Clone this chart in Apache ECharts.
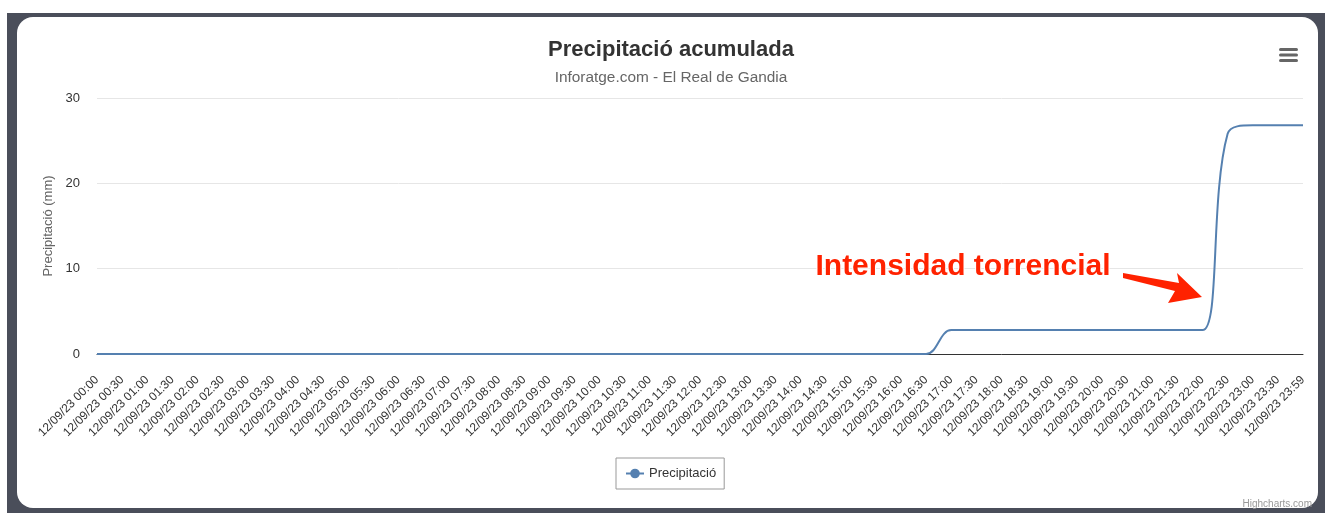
<!DOCTYPE html>
<html>
<head>
<meta charset="utf-8">
<script src="https://cdn.jsdelivr.net/npm/echarts@6/dist/echarts.min.js"></script>
<style>
  html, body { margin: 0; padding: 0; background: #ffffff; width: 1325px; height: 513px; overflow: hidden; }
  #frame { position: absolute; left: 7px; top: 13px; width: 1318px; height: 500px; background: #4a4e5a; }
  #card { position: absolute; left: 17px; top: 17px; width: 1301px; height: 491px; background: #ffffff; border-radius: 16px; }
  #chart { position: absolute; left: 0; top: 0; width: 1325px; height: 513px; }
</style>
</head>
<body>
<div id="frame"></div>
<div id="card"></div>
<div id="chart"></div>
<script>
const categories = [
  '12/09/23 00:00','12/09/23 00:30','12/09/23 01:00','12/09/23 01:30','12/09/23 02:00','12/09/23 02:30',
  '12/09/23 03:00','12/09/23 03:30','12/09/23 04:00','12/09/23 04:30','12/09/23 05:00','12/09/23 05:30',
  '12/09/23 06:00','12/09/23 06:30','12/09/23 07:00','12/09/23 07:30','12/09/23 08:00','12/09/23 08:30',
  '12/09/23 09:00','12/09/23 09:30','12/09/23 10:00','12/09/23 10:30','12/09/23 11:00','12/09/23 11:30',
  '12/09/23 12:00','12/09/23 12:30','12/09/23 13:00','12/09/23 13:30','12/09/23 14:00','12/09/23 14:30',
  '12/09/23 15:00','12/09/23 15:30','12/09/23 16:00','12/09/23 16:30','12/09/23 17:00','12/09/23 17:30',
  '12/09/23 18:00','12/09/23 18:30','12/09/23 19:00','12/09/23 19:30','12/09/23 20:00','12/09/23 20:30',
  '12/09/23 21:00','12/09/23 21:30','12/09/23 22:00','12/09/23 22:30','12/09/23 23:00','12/09/23 23:30',
  '12/09/23 23:59'
];
const precipitacio = [
  0, 0, 0, 0, 0, 0,
  0, 0, 0, 0, 0, 0,
  0, 0, 0, 0, 0, 0,
  0, 0, 0, 0, 0, 0,
  0, 0, 0, 0, 0, 0,
  0, 0, 0, 0, 2.8, 2.8,
  2.8, 2.8, 2.8, 2.8, 2.8, 2.8,
  2.8, 2.8, 2.8, 25.8, 26.8, 26.8,
  26.8
];
const yTicks = [0, 10, 20, 30];
const titleText = 'Precipitació acumulada';
const subtitleText = 'Inforatge.com - El Real de Gandia';
const seriesName = 'Precipitació';
const yAxisName = 'Precipitació (mm)';
const annotationText = 'Intensidad torrencial';

const FONT = '"Liberation Sans", Arial, Helvetica, sans-serif';
const chart = echarts.init(document.getElementById('chart'), null, { renderer: 'canvas' });

chart.setOption({
  backgroundColor: 'transparent',
  animation: false,
  textStyle: { fontFamily: FONT },
  title: {
    text: titleText,
    subtext: subtitleText,
    left: 666,
    textAlign: 'center',
    top: 32,
    itemGap: 6,
    textStyle: { fontFamily: FONT, fontSize: 22, fontWeight: 'bold', color: '#333333', lineHeight: 26 },
    subtextStyle: { fontFamily: FONT, fontSize: 15.4, color: '#666666', lineHeight: 18 }
  },
  legend: {
    data: [seriesName],
    left: 616,
    top: 458,
    padding: [9, 8, 9, 9],
    borderColor: '#999999',
    borderWidth: 1,
    borderRadius: 0,
    itemWidth: 18,
    itemHeight: 12,
    itemGap: 10,
    textStyle: { fontFamily: FONT, fontSize: 13, color: '#333333' }
  },
  grid: {
    left: 97, right: 22, top: 98, bottom: 159,
    containLabel: false,
    outerBoundsMode: 'none'
  },
  xAxis: {
    type: 'category',
    data: categories,
    boundaryGap: false,
    axisLine: { show: true, lineStyle: { color: '#333333', width: 1 } },
    axisTick: { show: false },
    axisLabel: {
      interval: 0, rotate: 45, margin: 24,
      fontFamily: FONT, fontSize: 12, color: '#333333'
    },
    splitLine: { show: false }
  },
  yAxis: {
    type: 'value',
    min: yTicks[0],
    max: yTicks[yTicks.length - 1],
    interval: 10,
    name: yAxisName,
    nameLocation: 'middle',
    nameGap: 37,
    nameRotate: 90,
    nameTextStyle: { fontFamily: FONT, fontSize: 13, color: '#666666' },
    axisLine: { show: false },
    axisTick: { show: false },
    axisLabel: { margin: 17, fontFamily: FONT, fontSize: 13, color: '#333333' },
    splitLine: { lineStyle: { color: '#e6e6e6', width: 1 } }
  },
  series: [{
    name: seriesName,
    type: 'line',
    data: precipitacio,
    smooth: 0.4,
    symbol: 'circle',
    symbolSize: 8,
    showSymbol: false,
    itemStyle: { color: '#5580b0' },
    lineStyle: { color: '#5580b0', width: 2 },
    z: 5
  }],
  graphic: [
    {
      type: 'text',
      x: 963, y: 267,
      z: 100,
      style: {
        text: annotationText,
        font: 'bold 30px ' + FONT,
        fill: '#ff2200',
        align: 'center',
        verticalAlign: 'middle',
        stroke: '#ffffff',
        lineWidth: 2,
        shadowColor: 'rgba(0,0,0,0.35)',
        shadowBlur: 3,
        shadowOffsetX: 1,
        shadowOffsetY: 1
      }
    },
    {
      type: 'polygon',
      z: 100,
      shape: { points: [[1123, 273], [1179, 283], [1177, 273], [1202, 297], [1168, 303], [1175, 291], [1123, 278]] },
      style: { fill: '#ff2200' }
    },
    { type: 'rect', z: 100, shape: { x: 1279, y: 48, width: 19, height: 3, r: 1.5 }, style: { fill: '#666666' } },
    { type: 'rect', z: 100, shape: { x: 1279, y: 53.5, width: 19, height: 3, r: 1.5 }, style: { fill: '#666666' } },
    { type: 'rect', z: 100, shape: { x: 1279, y: 59, width: 19, height: 3, r: 1.5 }, style: { fill: '#666666' } },
    {
      type: 'text',
      x: 1312, y: 504,
      z: 100,
      style: { text: 'Highcharts.com', font: '10px ' + FONT, fill: '#999999', align: 'right', verticalAlign: 'middle' }
    }
  ]
});
</script>
</body>
</html>
